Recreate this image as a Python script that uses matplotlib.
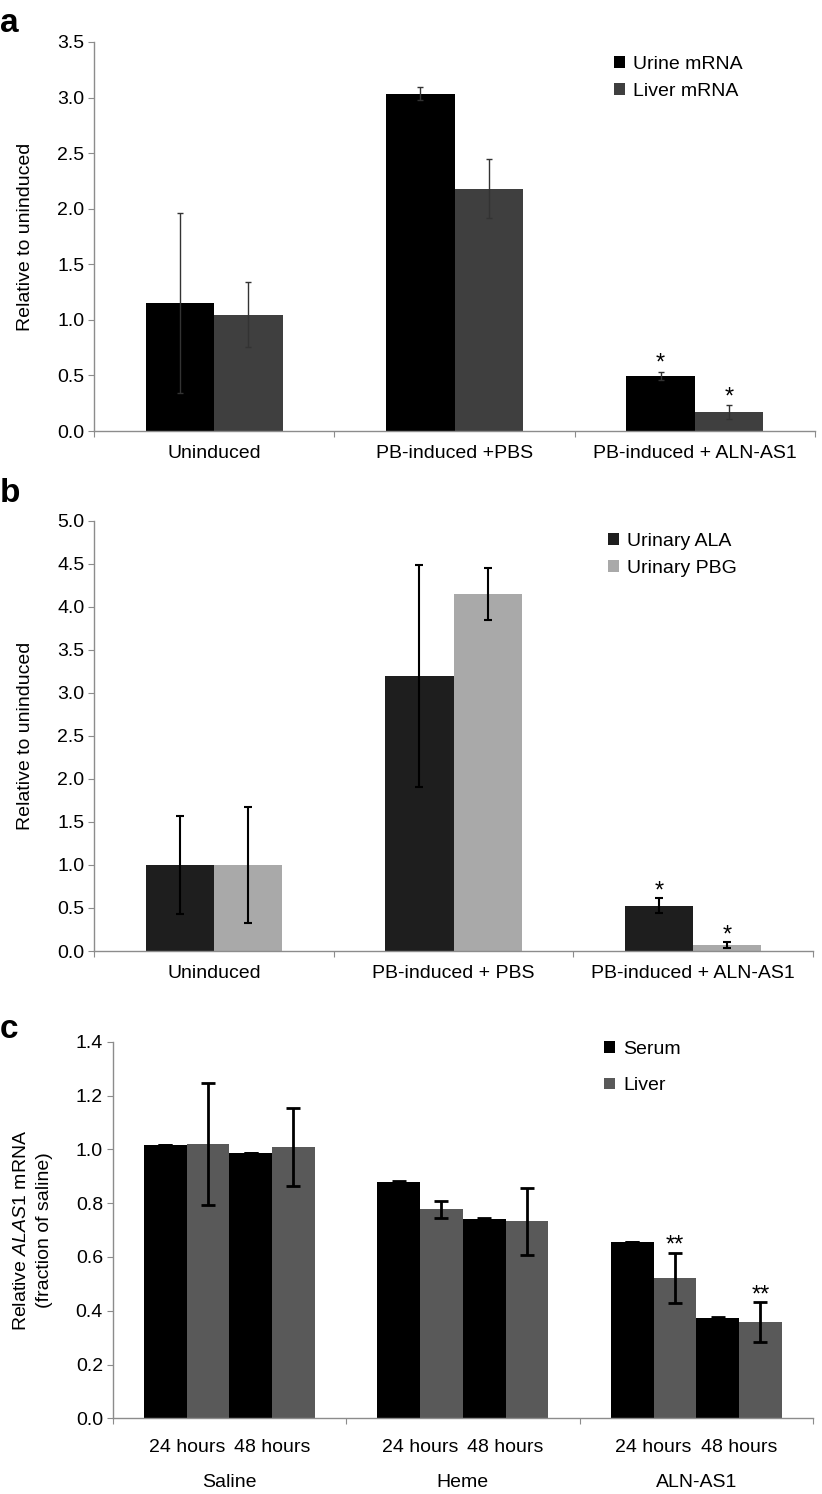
import numpy as np
import matplotlib
matplotlib.use("Agg")
import matplotlib.pyplot as plt

plt.rcParams["font.family"] = ["Liberation Sans", "DejaVu Sans"]
plt.rcParams["mathtext.fontset"] = "custom"
plt.rcParams["mathtext.it"] = "Liberation Sans:italic"
plt.rcParams["mathtext.rm"] = "Liberation Sans"

# ── Data ──────────────────────────────────────────────────────────────────────

a_categories = ["Uninduced", "PB-induced +PBS", "PB-induced + ALN-AS1"]
a_urine = [1.155, 3.036, 0.498]
a_urine_err = [0.81, 0.06, 0.035]
a_liver = [1.047, 2.18, 0.171]
a_liver_err = [0.29, 0.265, 0.06]

b_categories = ["Uninduced", "PB-induced + PBS", "PB-induced + ALN-AS1"]
b_ala = [1.0, 3.2, 0.527]
b_ala_err = [0.57, 1.29, 0.085]
b_pbg = [1.0, 4.15, 0.07]
b_pbg_err = [0.67, 0.30, 0.03]

c_groups = ["Saline", "Heme", "ALN-AS1"]
c_times = ["24 hours", "48 hours"]
c_serum_24 = [1.016, 0.878, 0.655]
c_serum_24_err = [0.0, 0.004, 0.0]
c_liver_24 = [1.02, 0.777, 0.522]
c_liver_24_err = [0.227, 0.031, 0.094]
c_serum_48 = [0.987, 0.740, 0.374]
c_serum_48_err = [0.0, 0.003, 0.004]
c_liver_48 = [1.009, 0.732, 0.357]
c_liver_48_err = [0.145, 0.125, 0.075]

FS = 14
SPINE = "#8c8c8c"


def style_axes(ax, ymax, ystep, fmt):
    for s in ["top", "right"]:
        ax.spines[s].set_visible(False)
    for s in ["left", "bottom"]:
        ax.spines[s].set_color(SPINE)
        ax.spines[s].set_linewidth(1)
    ax.set_xlim(0, 3)
    ax.set_ylim(0, ymax)
    ticks = np.arange(0, ymax + 1e-9, ystep)
    ax.set_yticks(ticks)
    ax.set_yticklabels([fmt.format(t) for t in ticks], fontsize=FS)
    ax.tick_params(axis="y", direction="out", length=4, color=SPINE, pad=3)
    ax.set_xticks([0, 1, 2, 3])
    ax.set_xticklabels([])
    ax.tick_params(axis="x", direction="out", length=4, color=SPINE)


def stars(ax, xs, ys, txt, off_px):
    for x, y in zip(xs, ys):
        ax.annotate(txt, (x, y), xytext=(0, off_px * 0.72), textcoords="offset points",
                    ha="center", va="baseline", fontsize=17)


fig = plt.figure(figsize=(8.22, 14.94), dpi=100)
W, H = 822, 1494


def add_axes(l, t, r, b):
    return fig.add_axes([l / W, 1 - b / H, (r - l) / W, (b - t) / H])


x = np.arange(3) + 0.5

# ── Panel a ───────────────────────────────────────────────────────────────────
ax = add_axes(94, 42, 815, 431)
w = 0.285
ax.bar(x - w / 2, a_urine, w, color="#000000", label="Urine mRNA", zorder=2)
ax.bar(x + w / 2, a_liver, w, color="#3f3f3f", label="Liver mRNA", zorder=2)
ekw = dict(fmt="none", ecolor="#333333", elinewidth=1, capsize=2, capthick=1, zorder=3)
ax.errorbar(x - w / 2, a_urine, yerr=a_urine_err, **ekw)
ax.errorbar(x + w / 2, a_liver, yerr=a_liver_err, **ekw)
style_axes(ax, 3.5, 0.5, "{:.1f}")
for xi, lab in zip(x, a_categories):
    ax.text(xi, -23 / 389, lab, transform=ax.get_xaxis_transform(), ha="center",
            va="center", fontsize=FS)
ax.set_ylabel("Relative to uninduced", fontsize=FS)
ax.yaxis.set_label_coords(-60 / 721, 0.5)
stars(ax, [x[2] - w / 2], [a_urine[2] + a_urine_err[2]], "*", 2)
stars(ax, [x[2] + w / 2], [a_liver[2] + a_liver_err[2]], "*", 2)
ax.legend(loc="upper left", bbox_to_anchor=(614 / W, 1 - 56 / H), bbox_transform=fig.transFigure,
          frameon=False, fontsize=FS, handlelength=0.55, handleheight=0.55,
          handletextpad=0.45, labelspacing=0.5, borderpad=0, borderaxespad=0)
fig.text(0, 1 - 23 / H, "a", fontsize=24, fontweight="bold", va="center", ha="left")

# ── Panel b ───────────────────────────────────────────────────────────────────
ax = add_axes(94, 520.7, 813, 951)
ax.bar(x - w / 2, b_ala, w, color="#1e1e1e", label="Urinary ALA", zorder=2)
ax.bar(x + w / 2, b_pbg, w, color="#a9a9a9", label="Urinary PBG", zorder=2)
ekw = dict(fmt="none", ecolor="#000000", elinewidth=1.5, capsize=3, capthick=1.5, zorder=3)
ax.errorbar(x - w / 2, b_ala, yerr=b_ala_err, **ekw)
ax.errorbar(x + w / 2, b_pbg, yerr=b_pbg_err, **ekw)
style_axes(ax, 5.0, 0.5, "{:.1f}")
for xi, lab in zip(x, b_categories):
    ax.text(xi, -22 / 430, lab, transform=ax.get_xaxis_transform(), ha="center",
            va="center", fontsize=FS)
ax.set_ylabel("Relative to uninduced", fontsize=FS)
ax.yaxis.set_label_coords(-60 / 719, 0.5)
stars(ax, [x[2] - w / 2], [b_ala[2] + b_ala_err[2]], "*", 0.5)
stars(ax, [x[2] + w / 2], [b_pbg[2] + b_pbg_err[2]], "*", 0.5)
ax.legend(loc="upper left", bbox_to_anchor=(608 / W, 1 - 533 / H), bbox_transform=fig.transFigure,
          frameon=False, fontsize=FS, handlelength=0.55, handleheight=0.55,
          handletextpad=0.45, labelspacing=0.5, borderpad=0, borderaxespad=0)
fig.text(0, 1 - 494 / H, "b", fontsize=24, fontweight="bold", va="center", ha="left")

# ── Panel c ───────────────────────────────────────────────────────────────────
ax = add_axes(112.7, 1041.7, 813, 1418.3)
w = 0.183
offs = [-1.5, -0.5, 0.5, 1.5]
series = [
    (c_serum_24, c_serum_24_err, "#000000", "Serum"),
    (c_liver_24, c_liver_24_err, "#595959", "Liver"),
    (c_serum_48, c_serum_48_err, "#000000", None),
    (c_liver_48, c_liver_48_err, "#595959", None),
]
ekw = dict(fmt="none", ecolor="#000000", elinewidth=2, capsize=5, capthick=2, zorder=3)
for o, (vals, errs, col, lab) in zip(offs, series):
    ax.bar(x + o * w, vals, w, color=col, label=lab, zorder=2)
    ax.errorbar(x + o * w, vals, yerr=errs, **ekw)
style_axes(ax, 1.4, 0.2, "{:.1f}")
for xi, grp in zip(x, c_groups):
    ax.text(xi - w, -29 / 376.6, c_times[0], transform=ax.get_xaxis_transform(),
            ha="center", va="center", fontsize=FS)
    ax.text(xi + w, -29 / 376.6, c_times[1], transform=ax.get_xaxis_transform(),
            ha="center", va="center", fontsize=FS)
    ax.text(xi, -64 / 376.6, grp, transform=ax.get_xaxis_transform(),
            ha="center", va="center", fontsize=FS)
ax.set_ylabel("Relative $\\mathit{ALAS1}$ mRNA\n(fraction of saline)", fontsize=FS,
              linespacing=1.4)
ax.yaxis.set_label_coords(-60 / 700, 0.5)
stars(ax, [x[2] - 0.5 * w], [c_liver_24[2] + c_liver_24_err[2]], "**", 1)
stars(ax, [x[2] + 1.5 * w], [c_liver_48[2] + c_liver_48_err[2]], "**", 1)
ax.legend(loc="upper left", bbox_to_anchor=(604 / W, 1 - 1041 / H), bbox_transform=fig.transFigure,
          frameon=False, fontsize=FS, handlelength=0.55, handleheight=0.55,
          handletextpad=0.45, labelspacing=1.0, borderpad=0, borderaxespad=0)
fig.text(0, 1 - 1029 / H, "c", fontsize=24, fontweight="bold", va="center", ha="left")

fig.savefig("out.png", dpi=100)
